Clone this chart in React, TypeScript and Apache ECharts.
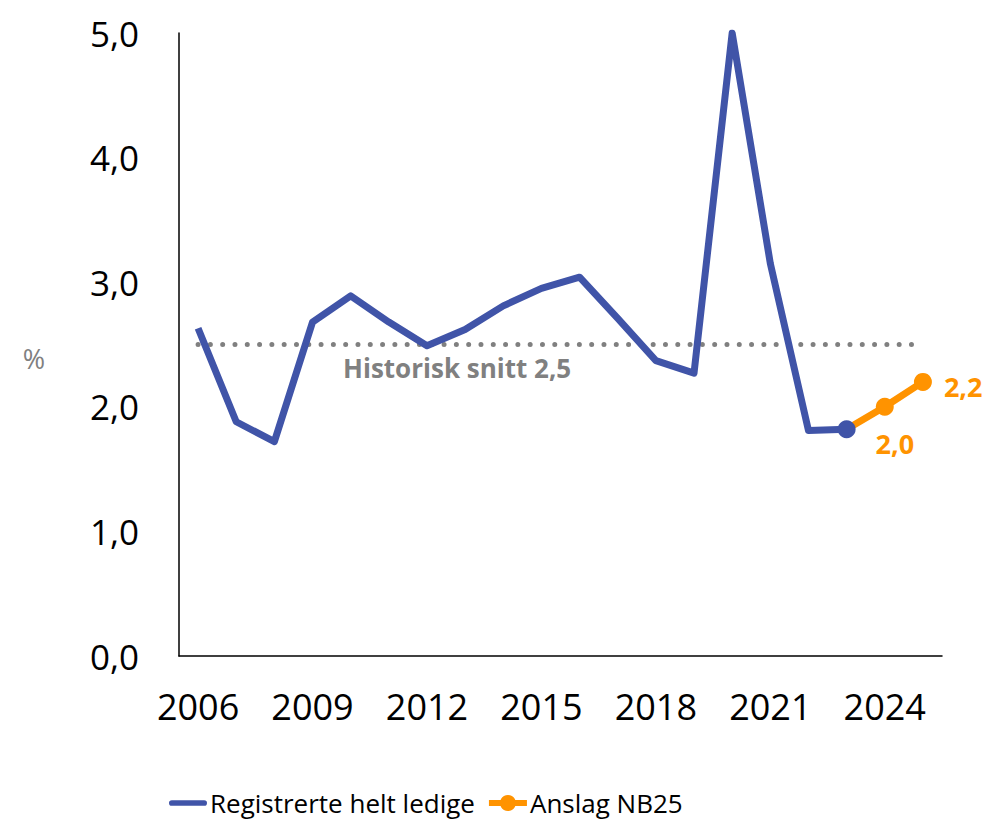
import React, { useEffect, useRef } from "react";
import * as echarts from "echarts";

const years = ["2006","2007","2008","2009","2010","2011","2012","2013","2014","2015","2016","2017","2018","2019","2020","2021","2022","2023","2024","2025"];
const registrerte: (number | null)[] = [2.63, 1.88, 1.72, 2.68, 2.89, 2.68, 2.49, 2.62, 2.81, 2.95, 3.04, 2.71, 2.37, 2.27, 5.0, 3.15, 1.81, 1.82, null, null];
const anslag: (number | null)[] = [null, null, null, null, null, null, null, null, null, null, null, null, null, null, null, null, null, 1.82, 2.0, 2.2];
const historiskSnitt = 2.5;
const yTicks = { min: 0, max: 5, interval: 1 };

const BLUE = "#4054A8";
const ORANGE = "#FF9300";
const GRAY = "#808080";
const FONT = "Open Sans";

const fmt = (v: number) => v.toFixed(1).replace(".", ",");

export default function App() {
  const ref = useRef<HTMLDivElement>(null);
  useEffect(() => {
    if (!ref.current) return;
    const chart = echarts.init(ref.current, undefined, { renderer: "svg" });
    const lastIdx = registrerte.reduce((acc, v, i) => (v != null ? i : acc), 0);
    const blueData = registrerte.map((v, i) =>
      i === lastIdx ? { value: v, symbol: "circle", symbolSize: 18 } : v
    );
    const firstOrange = anslag.findIndex((v) => v != null);
    const orangeData = anslag.map((v, i) => {
      if (v == null) return v;
      if (i === firstOrange) return { value: v, symbol: "none", label: { show: false } };
      if (i === anslag.length - 1)
        return { value: v, label: { show: true, position: "right", distance: 12, offset: [0, 5] } };
      return { value: v, label: { show: true, position: "bottom", distance: 14, offset: [10, 0] } };
    });
    const snittData = years.map((_, i) =>
      i === 7
        ? { value: historiskSnitt, label: { show: true, position: "bottom", distance: 10, offset: [-8, 0] } }
        : historiskSnitt
    );
    chart.setOption({
      animation: false,
      grid: { left: 179, right: 48, top: 33, bottom: 167, containLabel: false },
      legend: {
        data: [
          { name: "Registrerte helt ledige", icon: "path://M3,0 L37,0 A3,3 0 0 1 37,6 L3,6 A3,3 0 0 1 3,0 Z", itemStyle: { color: BLUE } },
          { name: "Anslag NB25", lineStyle: { width: 6, color: ORANGE } },
        ],
        bottom: 2,
        left: 164,
        itemWidth: 38,
        itemHeight: 20,
        itemGap: 11,
        textStyle: { fontFamily: FONT, fontSize: 26, color: "#000", padding: [0, 0, 0, -2] },
      },
      xAxis: {
        type: "category",
        data: years,
        boundaryGap: true,
        axisLine: { show: true, lineStyle: { color: "#000", width: 1.5 } },
        axisTick: { show: false },
        axisLabel: { interval: 2, fontFamily: FONT, fontSize: 36, color: "#000", margin: 32 },
      },
      yAxis: {
        type: "value",
        min: yTicks.min,
        max: yTicks.max,
        interval: yTicks.interval,
        name: "%",
        nameLocation: "middle",
        nameRotate: 0,
        nameGap: 145,
        nameTextStyle: { fontFamily: FONT, fontSize: 27, color: GRAY, verticalAlign: "top", align: "center" },
        splitLine: { show: false },
        axisLine: { show: true, lineStyle: { color: "#000", width: 1.5 } },
        axisTick: { show: false },
        axisLabel: { fontFamily: FONT, fontSize: 35, color: "#000", margin: 40, formatter: (v: number) => fmt(v) },
      },
      series: [
        {
          name: "Historisk snitt",
          type: "line",
          data: snittData,
          symbol: "circle",
          symbolSize: 1,
          showSymbol: true,
          showAllSymbol: true,
          silent: true,
          z: 1,
          itemStyle: { color: "rgba(0,0,0,0)" },
          lineStyle: { color: GRAY, width: 5, type: [0, 12.3], cap: "round" },
          label: {
            show: false,
            formatter: "Historisk snitt 2,5",
            fontFamily: FONT,
            fontWeight: "bold",
            fontSize: 26,
            color: GRAY,
          },
        },
        {
          name: "Anslag NB25",
          type: "line",
          data: orangeData,
          symbol: "circle",
          symbolSize: 18,
          showSymbol: true,
          z: 2,
          color: ORANGE,
          itemStyle: { color: ORANGE },
          lineStyle: { color: ORANGE, width: 7 },
          label: {
            show: false,
            fontFamily: FONT,
            fontWeight: "bold",
            fontSize: 27,
            color: ORANGE,
            formatter: (p: any) => fmt(p.value as number),
          },
        },
        {
          name: "Registrerte helt ledige",
          type: "line",
          data: blueData,
          symbol: "none",
          showSymbol: true,
          z: 3,
          color: BLUE,
          itemStyle: { color: BLUE },
          lineStyle: { color: BLUE, width: 7, join: "round" },
        },
      ],
    });
    return () => chart.dispose();
  }, []);
  return (
    <div
      ref={ref}
      style={{ position: "fixed", left: 0, top: 0, width: 990, height: 823, background: "#fff" }}
    />
  );
}
